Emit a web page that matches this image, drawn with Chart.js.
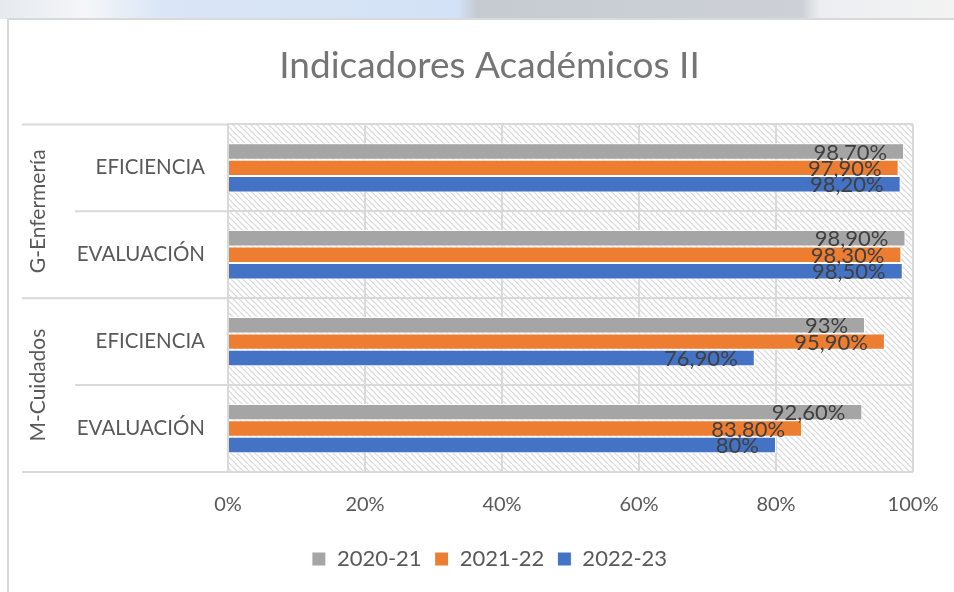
<!DOCTYPE html>
<html>
<head>
<meta charset="utf-8">
<script src="https://cdn.jsdelivr.net/npm/chart.js@4"></script>
<style>
  html, body { margin: 0; padding: 0; background: #fff; }
  #strip {
    position: absolute; left: 0; top: 0; width: 954px; height: 19px;
    background: linear-gradient(to right, #e6eaef 0%, #f4f6f9 9%, #dae6f6 17%, #d3e2f6 48%, #c6cbd2 50%, #cdd1d7 84%, #eceef1 86%, #f3f3f3 100%);
  }
  #frame {
    position: absolute; left: 7px; top: 18px; width: 947px; height: 574px;
    box-sizing: border-box; background: #fff;
    border-left: 2px solid #d9d9d9; border-top: 2px solid #d9d9d9;
  }
  canvas { position: absolute; left: 0; top: 0; }
</style>
</head>
<body>
<div id="strip"></div>
<div id="frame"></div>
<canvas id="chart" width="954" height="592"></canvas>
<script>
// data
const categories = ['EFICIENCIA', 'EVALUACIÓN', 'EFICIENCIA', 'EVALUACIÓN'];
const categoryGroups = ['G-Enfermería', 'G-Enfermería', 'M-Cuidados', 'M-Cuidados'];
const seriesNames = ['2020-21', '2021-22', '2022-23'];
const values2020 = [98.7, 98.9, 93, 92.6];
const values2021 = [97.9, 98.3, 95.9, 83.8];
const values2022 = [98.2, 98.5, 76.9, 80];
const seriesColors = ['#a5a5a5', '#ed7d31', '#4472c4'];
const xTickStep = 20;

const fmtPct = v => Number.isInteger(v) ? v + '%' : v.toFixed(2).replace('.', ',') + '%';

Chart.defaults.font.family = 'Lato, "Open Sans", sans-serif';
Chart.defaults.color = '#595959';

const canvas = document.getElementById('chart');
const ctx = canvas.getContext('2d');

const makeHatch = () => {
  const c = document.createElement('canvas');
  c.width = 6; c.height = 6;
  const g = c.getContext('2d');
  g.fillStyle = '#ffffff';
  g.fillRect(0, 0, 6, 6);
  g.strokeStyle = '#d6d6d6';
  g.lineWidth = 1.2;
  g.beginPath();
  g.moveTo(-1, -1); g.lineTo(7, 7);
  g.moveTo(-1, 5); g.lineTo(1, 7);
  g.moveTo(5, -1); g.lineTo(7, 1);
  g.stroke();
  return ctx.createPattern(c, 'repeat');
};

const hatchBg = {
  id: 'hatchBg',
  beforeDraw(chart) {
    const a = chart.chartArea;
    chart.ctx.save();
    chart.ctx.fillStyle = makeHatch();
    chart.ctx.fillRect(a.left, a.top, a.right - a.left, a.bottom - a.top);
    chart.ctx.restore();
  }
};

// second level of the category axis: group names and the long separators
const groupAxis = {
  id: 'groupAxis',
  afterDraw(chart) {
    const c = chart.ctx;
    const a = chart.chartArea;
    const y = chart.scales.y;
    const half = (a.bottom - a.top) / categories.length / 2;
    c.save();
    c.strokeStyle = '#d9d9d9';
    c.lineWidth = 2;
    for (let k = 0; k <= categories.length; k++) {
      const edge = k < categories.length ? y.getPixelForValue(k) - half : y.getPixelForValue(k - 1) + half;
      const isGroup = k === 0 || k === categories.length || categoryGroups[k] !== categoryGroups[k - 1];
      c.beginPath();
      c.moveTo(isGroup ? 22 : 75, edge);
      c.lineTo(a.left, edge);
      c.stroke();
    }
    c.fillStyle = '#595959';
    c.font = '21px Lato';
    c.textAlign = 'center';
    c.textBaseline = 'middle';
    [...new Set(categoryGroups)].forEach(g => {
      const first = categoryGroups.indexOf(g);
      const last = categoryGroups.lastIndexOf(g);
      const yc = (y.getPixelForValue(first) + y.getPixelForValue(last)) / 2;
      c.save();
      c.translate(38, yc);
      c.rotate(-Math.PI / 2);
      c.fillText(g, 0, 0);
      c.restore();
    });
    c.restore();
  }
};

const dataLabels = {
  id: 'dataLabels',
  afterDatasetsDraw(chart) {
    const c = chart.ctx;
    c.save();
    c.font = '22px Lato';
    c.fillStyle = '#404040';
    c.textAlign = 'right';
    c.textBaseline = 'middle';
    chart.data.datasets.forEach((ds, i) => {
      chart.getDatasetMeta(i).data.forEach((bar, j) => {
        c.fillText(fmtPct(ds.data[j]), bar.x - 17, bar.y + 1);
      });
    });
    c.restore();
  }
};

const seriesValues = [values2020, values2021, values2022];

new Chart(ctx, {
  type: 'bar',
  data: {
    labels: categories,
    datasets: seriesNames.map((name, i) => ({
      label: name,
      data: seriesValues[i],
      backgroundColor: seriesColors[i],
      borderColor: '#ffffff',
      borderWidth: 1,
      categoryPercentage: 0.567,
      barPercentage: 1
    }))
  },
  options: {
    indexAxis: 'y',
    responsive: false,
    animation: false,
    layout: { padding: { left: 39, right: 14, top: 0, bottom: 12 } },
    scales: {
      x: {
        min: 0,
        max: 100,
        ticks: {
          stepSize: xTickStep,
          padding: 21,
          maxRotation: 0,
          font: { size: 20 },
          color: '#595959',
          callback: v => v + '%'
        },
        grid: { color: '#d9d9d9', lineWidth: 2, drawTicks: false },
        border: { display: false },
        afterFit: s => { s.height = 63; s.paddingRight = 41; }
      },
      y: {
        ticks: { padding: 23, font: { size: 20.5 }, color: '#595959' },
        grid: { color: '#d9d9d9', lineWidth: 2, drawTicks: false, offset: true },
        border: { color: '#d9d9d9', width: 2 },
        afterFit: s => { s.width = 189; }
      }
    },
    plugins: {
      title: {
        display: true,
        text: 'Indicadores Académicos II',
        color: '#757575',
        font: { size: 37, weight: 'normal' },
        padding: { top: 44, bottom: 36 }
      },
      legend: {
        position: 'bottom',
        labels: {
          boxWidth: 14,
          boxHeight: 14,
          padding: 13,
          font: { size: 22 },
          color: '#595959'
        }
      },
      tooltip: { enabled: false }
    }
  },
  plugins: [hatchBg, groupAxis, dataLabels]
});
</script>
</body>
</html>
